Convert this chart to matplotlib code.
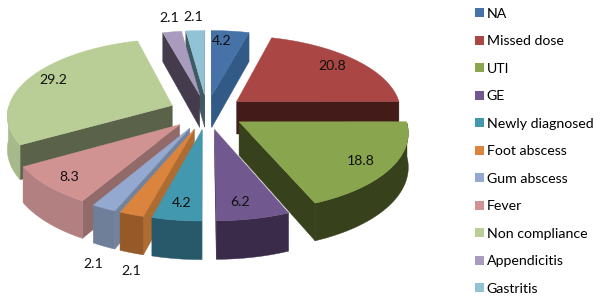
"""Exploded pseudo-3D pie chart of admission causes."""
import numpy as np
import matplotlib
matplotlib.use('Agg')
import matplotlib.pyplot as plt
from matplotlib.patches import Patch, Polygon

plt.rcParams['font.family'] = ['Lato', 'DejaVu Sans']

categories = ['NA', 'Missed dose', 'UTI', 'GE', 'Newly diagnosed', 'Foot abscess',
              'Gum abscess', 'Fever', 'Non compliance', 'Appendicitis', 'Gastritis']
values = [4.2, 20.8, 18.8, 6.2, 4.2, 2.1, 2.1, 8.3, 29.2, 2.1, 2.1]
value_labels = ['4.2', '20.8', '18.8', '6.2', '4.2', '2.1', '2.1', '8.3', '29.2', '2.1', '2.1']

# top face, outer rim, radial cut
TOP = ['#4672a8', '#aa4643', '#89a54e', '#71588f', '#4198af', '#db843d',
       '#93a9cf', '#d19392', '#b9cd96', '#a99bbd', '#92c3d5']
RIM = ['#34598a', '#431c1a', '#37421d', '#3b2b4a', '#27596a', '#955a28',
       '#6f7e99', '#b28080', '#a5b98a', '#5f5770', '#5f8494']
CUT = ['#315a87', '#431c1a', '#37421d', '#3b2b4a', '#27596a', '#ae6c33',
       '#71839f', '#936a6a', '#5a6249', '#443c4d', '#3f5a63']

# label centres in pixels
LABEL_XY = [(222, 41), (332, 66), (361, 161), (240, 202), (182, 203), (131, 271),
            (93, 264), (69, 177), (53, 80), (169, 18), (193, 17)]

CX, CY = 207, 112
RADIUS = 165
TILT = 0.46
PERSP = 0.118
EXPLODE = 0.23
DEPTH = 33


def project(x, y):
    s = 1 / (1 - PERSP * y)
    return CX + RADIUS * x * s, CY + RADIUS * TILT * y * s, DEPTH * s


def side_face(points):
    # band hanging from the top edge through the given points
    upper = [(p[0], p[1]) for p in points]
    lower = [(p[0], p[1] + p[2]) for p in reversed(points)]
    return upper + lower


fig, ax = plt.subplots(figsize=(6, 3), dpi=100)
ax.set_position([0, 0, 1, 1])
ax.set_xlim(0, 600)
ax.set_ylim(300, 0)
ax.axis('off')

fractions = np.cumsum([0] + values) / sum(values) * 2 * np.pi
mids = (fractions[:-1] + fractions[1:]) / 2

# paint from the back of the pie to the front
for i in np.argsort(-np.cos(mids)):
    ox, oy = EXPLODE * np.sin(mids[i]), -EXPLODE * np.cos(mids[i])
    angles = np.linspace(fractions[i], fractions[i + 1], 60)
    apex = project(ox, oy)
    rim = [project(ox + np.sin(a), oy - np.cos(a)) for a in angles]

    # radial cuts, only the ones facing the viewer
    inner = rim[len(rim) // 2]
    for end in (rim[0], rim[-1]):
        ex, ey = end[0] - apex[0], end[1] - apex[1]
        ix, iy = inner[0] - apex[0], inner[1] - apex[1]
        if (ex * iy - ey * ix) * ex < 0:
            ax.add_patch(Polygon(side_face([apex, end]), closed=True, facecolor=CUT[i],
                                 edgecolor=CUT[i], linewidth=0.3))

    # outer rim, front half only
    front = [p for p, a in zip(rim, angles) if -np.cos(a) > 0]
    if len(front) > 1:
        ax.add_patch(Polygon(side_face(front), closed=True, facecolor=RIM[i],
                             edgecolor=RIM[i], linewidth=0.3))

    top = [(apex[0], apex[1])] + [(p[0], p[1]) for p in rim]
    ax.add_patch(Polygon(top, closed=True, facecolor=TOP[i], edgecolor=TOP[i], linewidth=0.3))

for (lx, ly), text in zip(LABEL_XY, value_labels):
    ax.text(lx, ly, text, fontsize=10.2, color='#111111', ha='center', va='center')

handles = [Patch(facecolor=c, edgecolor='none', label=n) for c, n in zip(TOP, categories)]
ax.legend(handles=handles, loc='upper left', bbox_to_anchor=(475 / 600, 1 - 7.5 / 300),
          frameon=False, fontsize=10.2, handlelength=0.6, handleheight=0.6,
          handletextpad=0.23, labelspacing=1.095, borderpad=0, borderaxespad=0)

fig.savefig('out.png', dpi=100, facecolor='white')
plt.close(fig)
